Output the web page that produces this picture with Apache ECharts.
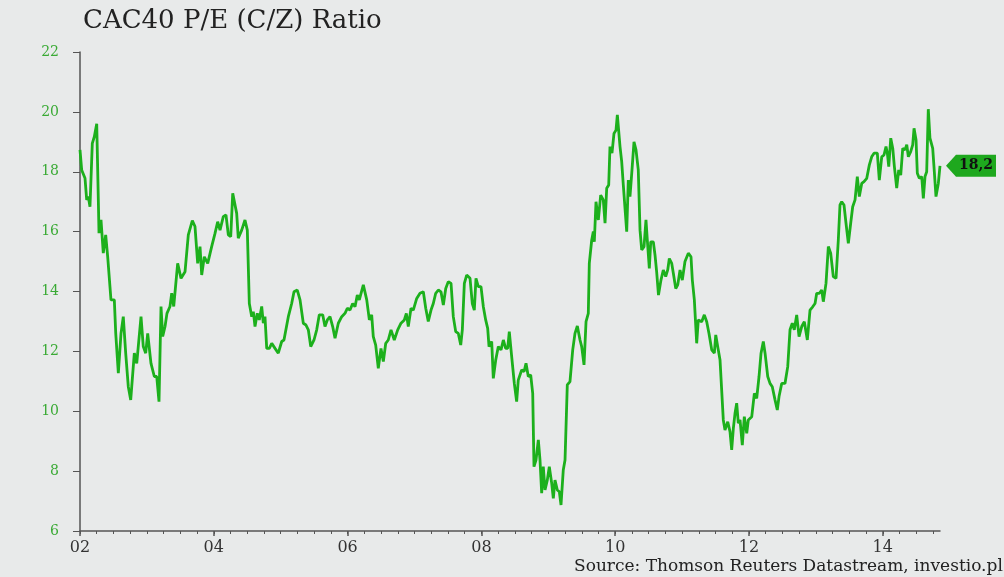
<!DOCTYPE html>
<html>
<head>
<meta charset="utf-8">
<script src="https://cdn.jsdelivr.net/npm/echarts@6/dist/echarts.min.js"></script>
<style>
  html, body { margin: 0; padding: 0; background: #e8eaea; }
  #chart { width: 1004px; height: 577px; }
</style>
</head>
<body>
<div id="chart"></div>
<script>
// decimal years
var yrs = [
    2002.000, 2002.025, 2002.075, 2002.100, 2002.124, 2002.149, 2002.184, 2002.214, 2002.250, 2002.274,
    2002.284, 2002.314, 2002.348, 2002.384, 2002.414, 2002.463, 2002.513, 2002.534, 2002.573, 2002.613,
    2002.647, 2002.683, 2002.722, 2002.758, 2002.812, 2002.848, 2002.912, 2002.946, 2002.982, 2003.012,
    2003.061, 2003.111, 2003.147, 2003.181, 2003.211, 2003.236, 2003.271, 2003.300, 2003.345, 2003.371,
    2003.401, 2003.460, 2003.510, 2003.570, 2003.619, 2003.679, 2003.719, 2003.759, 2003.794, 2003.819,
    2003.858, 2003.909, 2003.968, 2004.018, 2004.058, 2004.093, 2004.142, 2004.182, 2004.217, 2004.253,
    2004.283, 2004.302, 2004.342, 2004.366, 2004.417, 2004.466, 2004.501, 2004.531, 2004.567, 2004.591,
    2004.616, 2004.650, 2004.680, 2004.716, 2004.740, 2004.765, 2004.791, 2004.830, 2004.866, 2004.915,
    2004.964, 2005.015, 2005.049, 2005.114, 2005.164, 2005.199, 2005.248, 2005.289, 2005.338, 2005.378,
    2005.413, 2005.449, 2005.498, 2005.538, 2005.577, 2005.628, 2005.662, 2005.697, 2005.737, 2005.777,
    2005.812, 2005.861, 2005.912, 2005.961, 2005.996, 2006.036, 2006.076, 2006.111, 2006.145, 2006.175,
    2006.235, 2006.286, 2006.325, 2006.360, 2006.384, 2006.420, 2006.459, 2006.499, 2006.534, 2006.570,
    2006.608, 2006.649, 2006.698, 2006.749, 2006.798, 2006.848, 2006.878, 2006.907, 2006.948, 2006.982,
    2007.033, 2007.082, 2007.132, 2007.168, 2007.206, 2007.247, 2007.281, 2007.317, 2007.356, 2007.396,
    2007.431, 2007.467, 2007.505, 2007.546, 2007.580, 2007.616, 2007.655, 2007.691, 2007.715, 2007.745,
    2007.780, 2007.830, 2007.864, 2007.894, 2007.919, 2007.954, 2007.994, 2008.029, 2008.064, 2008.094,
    2008.114, 2008.154, 2008.178, 2008.214, 2008.253, 2008.293, 2008.328, 2008.363, 2008.393, 2008.417,
    2008.453, 2008.492, 2008.527, 2008.551, 2008.602, 2008.637, 2008.667, 2008.701, 2008.737, 2008.767,
    2008.786, 2008.816, 2008.851, 2008.876, 2008.901, 2008.925, 2008.951, 2008.985, 2009.015, 2009.051,
    2009.075, 2009.100, 2009.135, 2009.165, 2009.190, 2009.224, 2009.250, 2009.284, 2009.324, 2009.365,
    2009.399, 2009.434, 2009.474, 2009.499, 2009.534, 2009.564, 2009.598, 2009.613, 2009.649, 2009.673,
    2009.688, 2009.713, 2009.748, 2009.783, 2009.822, 2009.848, 2009.873, 2009.903, 2009.922, 2009.952,
    2009.982, 2010.012, 2010.032, 2010.072, 2010.097, 2010.121, 2010.147, 2010.172, 2010.196, 2010.221,
    2010.251, 2010.281, 2010.311, 2010.345, 2010.371, 2010.396, 2010.431, 2010.460, 2010.480, 2010.510,
    2010.531, 2010.570, 2010.595, 2010.620, 2010.647, 2010.684, 2010.719, 2010.755, 2010.785, 2010.809,
    2010.845, 2010.869, 2010.905, 2010.935, 2010.969, 2011.003, 2011.043, 2011.093, 2011.133, 2011.153,
    2011.183, 2011.218, 2011.242, 2011.293, 2011.332, 2011.368, 2011.402, 2011.443, 2011.482, 2011.503,
    2011.541, 2011.567, 2011.616, 2011.641, 2011.682, 2011.716, 2011.741, 2011.766, 2011.791, 2011.816,
    2011.840, 2011.866, 2011.900, 2011.930, 2011.966, 2011.990, 2012.041, 2012.080, 2012.115, 2012.150,
    2012.180, 2012.214, 2012.240, 2012.280, 2012.314, 2012.348, 2012.389, 2012.423, 2012.449, 2012.489,
    2012.538, 2012.579, 2012.613, 2012.647, 2012.677, 2012.713, 2012.748, 2012.788, 2012.827, 2012.872,
    2012.912, 2012.952, 2012.987, 2013.012, 2013.051, 2013.087, 2013.111, 2013.151, 2013.186, 2013.221,
    2013.260, 2013.301, 2013.335, 2013.360, 2013.386, 2013.420, 2013.450, 2013.485, 2013.520, 2013.550,
    2013.585, 2013.619, 2013.649, 2013.685, 2013.719, 2013.760, 2013.799, 2013.834, 2013.869, 2013.918,
    2013.948, 2013.984, 2014.018, 2014.048, 2014.068, 2014.089, 2014.119, 2014.149, 2014.173, 2014.208,
    2014.238, 2014.268, 2014.298, 2014.332, 2014.358, 2014.382, 2014.417, 2014.447, 2014.467, 2014.497,
    2014.516, 2014.546, 2014.582, 2014.606, 2014.631, 2014.656, 2014.680, 2014.705, 2014.746, 2014.765,
    2014.795, 2014.830, 2014.855
];
// CAC40 P/E ratio
var pe = [
    18.73, 18.06, 17.78, 17.06, 17.17, 16.83, 18.95, 19.17, 19.60, 17.06,
    15.95, 16.39, 15.28, 15.89, 15.16, 13.72, 13.72, 12.61, 11.27, 12.60,
    13.16, 11.94, 10.82, 10.38, 11.94, 11.60, 13.16, 12.16, 11.94, 12.60,
    11.60, 11.16, 11.16, 10.32, 13.50, 12.50, 12.83, 13.27, 13.50, 13.94,
    13.50, 14.94, 14.44, 14.66, 15.89, 16.37, 16.17, 14.94, 15.50, 14.55,
    15.16, 14.94, 15.50, 15.94, 16.33, 16.05, 16.50, 16.56, 15.89, 15.83,
    17.28, 17.33, 16.61, 15.78, 16.05, 16.39, 16.05, 13.60, 13.16, 13.33,
    12.83, 13.27, 13.05, 13.50, 12.94, 13.16, 12.10, 12.10, 12.27, 12.10,
    11.94, 12.33, 12.38, 13.16, 13.60, 13.99, 14.05, 13.72, 12.94, 12.88,
    12.72, 12.16, 12.38, 12.72, 13.22, 13.22, 12.83, 13.05, 13.16, 12.83,
    12.44, 12.94, 13.16, 13.27, 13.44, 13.38, 13.60, 13.49, 13.88, 13.72,
    14.22, 13.72, 13.05, 13.22, 12.49, 12.21, 11.43, 12.10, 11.66, 12.27,
    12.38, 12.72, 12.38, 12.72, 12.94, 13.05, 13.27, 12.83, 13.44, 13.38,
    13.77, 13.94, 13.99, 13.44, 13.00, 13.38, 13.60, 13.94, 14.05, 13.99,
    13.55, 14.10, 14.33, 14.27, 13.16, 12.66, 12.60, 12.21, 12.72, 14.27,
    14.55, 14.44, 13.60, 13.38, 14.44, 14.16, 14.16, 13.49, 13.05, 12.77,
    12.16, 12.33, 11.10, 11.71, 12.16, 12.05, 12.38, 12.10, 12.10, 12.66,
    11.82, 10.93, 10.32, 11.04, 11.38, 11.32, 11.60, 11.16, 11.21, 10.60,
    8.15, 8.37, 9.04, 8.37, 7.26, 8.15, 7.37, 7.70, 8.15, 7.59,
    7.09, 7.70, 7.37, 7.31, 6.87, 8.04, 8.37, 10.88, 10.99, 12.05,
    12.60, 12.85, 12.38, 12.16, 11.55, 12.99, 13.27, 14.94, 15.72, 16.00,
    15.66, 17.00, 16.39, 17.22, 17.06, 16.28, 17.45, 17.56, 18.84, 18.62,
    19.28, 19.39, 19.90, 18.84, 18.34, 17.56, 17.50, 16.00, 17.72, 17.17,
    18.06, 19.00, 18.73, 18.06, 16.05, 15.39, 15.50, 16.39, 15.72, 14.77,
    15.66, 15.66, 15.22, 14.65, 13.88, 14.38, 14.72, 14.50, 14.72, 15.10,
    14.94, 14.61, 14.10, 14.22, 14.72, 14.38, 15.00, 15.28, 15.16, 14.38,
    13.72, 12.27, 13.05, 12.99, 13.22, 12.99, 12.60, 12.05, 11.94, 12.55,
    12.05, 11.71, 9.71, 9.37, 9.65, 9.32, 8.71, 9.43, 9.93, 10.27,
    9.60, 9.71, 8.87, 9.82, 9.26, 9.71, 9.82, 10.60, 10.43, 11.16,
    11.94, 12.33, 11.94, 11.16, 10.93, 10.82, 10.38, 10.04, 10.49, 10.93,
    10.93, 11.49, 12.72, 12.94, 12.72, 13.22, 12.49, 12.83, 12.99, 12.38,
    13.38, 13.49, 13.60, 13.94, 13.94, 14.05, 13.66, 14.27, 15.50, 15.28,
    14.50, 14.44, 15.72, 16.89, 17.00, 16.89, 16.28, 15.61, 16.28, 16.83,
    17.06, 17.84, 17.17, 17.61, 17.67, 17.78, 18.23, 18.50, 18.62, 18.62,
    17.72, 18.50, 18.56, 18.84, 18.62, 18.17, 19.12, 18.78, 18.17, 17.45,
    18.06, 17.89, 18.78, 18.73, 18.90, 18.50, 18.67, 18.90, 19.45, 19.06,
    17.95, 17.78, 17.84, 17.11, 17.84, 18.00, 20.09, 19.12, 18.78, 18.17,
    17.17, 17.61, 18.20
];
var labelYears = [2002, 2004, 2006, 2008, 2010, 2012, 2014];
var yTicks = [6, 8, 10, 12, 14, 16, 18, 20, 22];

var quarters = [];
for (var q = 2002; q <= yrs[yrs.length - 1]; q += 0.25) quarters.push(q);

var points = [];
for (var i = 0; i < yrs.length; i++) points.push([yrs[i], pe[i]]);
var last = points[points.length - 1];

var serif = 'DejaVu Serif';
var green = '#1cb01c';

var option = {
    backgroundColor: '#e8eaea',
    animation: false,
    title: {
        text: 'CAC40 P/E (C/Z) Ratio',
        left: 78, top: 3,
        textStyle: { fontFamily: serif, fontSize: 26, fontWeight: 'normal', color: '#222' }
    },
    graphic: [{
        type: 'text', left: 574, top: 558,
        style: {
            text: 'Source: Thomson Reuters Datastream, investio.pl',
            font: '17px "DejaVu Serif"', fill: '#222'
        }
    }],
    grid: { left: 80, right: 64, top: 52, bottom: 46 },
    xAxis: [{
        type: 'value',
        min: yrs[0], max: yrs[yrs.length - 1],
        splitLine: { show: false },
        axisLine: { onZero: false, lineStyle: { color: '#555', width: 1.5 } },
        axisTick: { customValues: labelYears, length: 5, lineStyle: { color: '#555', width: 1.5 } },
        axisLabel: {
            customValues: labelYears,
            margin: 9,
            fontFamily: serif, fontSize: 16, color: '#333',
            formatter: function (v) { return String(Math.round(v) % 100).padStart(2, '0'); }
        }
    }, {
        type: 'value',
        min: yrs[0], max: yrs[yrs.length - 1],
        position: 'bottom',
        splitLine: { show: false },
        axisLine: { show: false, onZero: false },
        axisTick: { customValues: quarters, length: 3, lineStyle: { color: '#555', width: 1 } },
        axisLabel: { show: false }
    }],
    yAxis: {
        type: 'value',
        min: 6, max: 22, interval: 2,
        splitLine: { show: false },
        axisLine: { show: true, lineStyle: { color: '#555', width: 1.5 } },
        axisTick: { show: true, length: 7, lineStyle: { color: '#555', width: 1 } },
        axisLabel: {
            margin: 21,
            fontFamily: serif, fontSize: 14, color: '#3aaa35',
            customValues: yTicks
        }
    },
    series: [{
        type: 'line',
        xAxisIndex: 0,
        data: points,
        showSymbol: false,
        lineStyle: { color: green, width: 2.8 },
        markPoint: {
            symbol: 'path://M0,11 L10,0 L50,0 L50,22 L10,22 Z',
            symbolSize: [50, 22],
            symbolOffset: [31, 0],
            itemStyle: { color: '#1ea81e' },
            label: {
                show: true, offset: [5, 0],
                fontFamily: serif, fontSize: 14, fontWeight: 'bold', color: '#111',
                formatter: function () { return last[1].toFixed(1).replace('.', ','); }
            },
            data: [{ coord: last }]
        }
    }]
};

var chart = echarts.init(document.getElementById('chart'));
chart.setOption(option);
</script>
</body>
</html>
